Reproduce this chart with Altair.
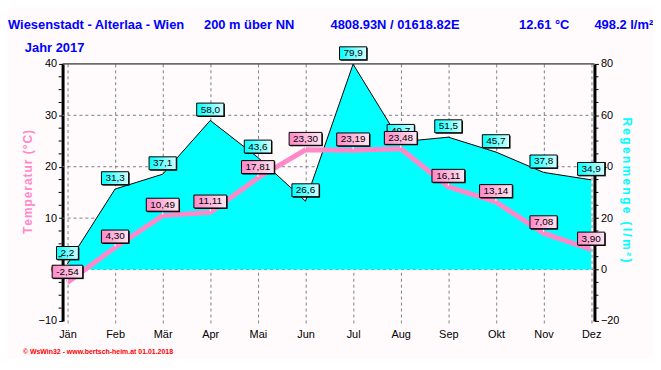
import altair as alt
import pandas as pd

# ---------------- data ----------------
months = ["Jän", "Feb", "Mär", "Apr", "Mai", "Jun", "Jul", "Aug", "Sep", "Okt", "Nov", "Dez"]
temperature = [-2.54, 4.30, 10.49, 11.11, 17.81, 23.30, 23.19, 23.48, 16.11, 13.14, 7.08, 3.90]
rainfall = [2.2, 31.3, 37.1, 58.0, 43.6, 26.6, 79.9, 49.7, 51.5, 45.7, 37.8, 34.9]
temp_ticks = [-10, 0, 10, 20, 30, 40]
rain_ticks = [-20, 0, 20, 40, 60, 80]
rain_grid = [0, 20, 40, 60]
rain_top = [80]

header_texts = ["Wiesenstadt - Alterlaa - Wien", "200 m über NN", "4808.93N / 01618.82E",
                "12.61 °C", "498.2 l/m²"]
year_text = "Jahr  2017"
footer_text = "© WsWin32 - www.bertsch-heim.at  01.01.2018"
temp_title = "Temperatur (°C)"
rain_title = "Regenmenge (l/m²)"

# ---------------- layout / style ----------------
W, H = 536, 259
PINK = "#ff88c8"
CYAN = "#00ffff"
BLUE = "#0000ff"
FONT = "Liberation Sans"

CHAR_W = {",": 0.278, "-": 0.333, ".": 0.278}


def text_w(s):
    return sum(CHAR_W.get(c, 0.556) for c in s) * 10


def box_path(s, dx=0.0, dy=0.0):
    half = (text_w(s) + 8) / 2
    return (f"M{-half + dx:.1f},{-17.5 + dy:.1f}H{half + dx:.1f}"
            f"V{-4.5 + dy:.1f}H{-half + dx:.1f}Z")


def fmt(v, d):
    return f"{v:.{d}f}".replace(".", ",")


df = pd.DataFrame({"m": list(range(len(months))), "temp": temperature, "rain": rainfall})
df["tlab"] = [fmt(v, 2) for v in temperature]
df["rlab"] = [fmt(v, 1) for v in rainfall]
df["tbox"] = df["tlab"].map(box_path)
df["tshadow"] = df["tlab"].map(lambda s: box_path(s, 1, 1))
df["rbox"] = df["rlab"].map(box_path)
df["rshadow"] = df["rlab"].map(lambda s: box_path(s, 1, 1))

rain_minor = [v for v in range(-15, 80, 5) if v % 20 != 0]
temp_minor = [v / 2 for v in rain_minor]

month_js = "[" + ",".join(f"'{m}'" for m in months) + "]"

x_scale = alt.Scale(domain=[-0.102, 11.069], nice=False, zero=False)
x_axis = alt.Axis(values=list(range(12)), labelExpr=f"{month_js}[datum.value]",
                  grid=True, gridColor="#808080", gridDash=[3, 3], gridWidth=1,
                  domain=False, ticks=True, tickColor="#808080", tickDash=[2, 2],
                  tickSize=4, labelFontSize=11, labelColor="black", labelPadding=4,
                  labelFont=FONT, title=None)
t_scale = alt.Scale(domain=[-10, 40], nice=False, zero=False)
t_axis = alt.Axis(orient="left", values=temp_ticks, grid=False, domainColor="black",
                  domainWidth=3, tickColor="black", tickSize=4, tickWidth=1,
                  labelFontSize=11, labelColor="black", labelPadding=2, labelFont=FONT,
                  title=None)
r_scale = alt.Scale(domain=[-20, 80], nice=False, zero=False)
r_axis = alt.Axis(orient="right", values=rain_ticks, grid=False, domainColor="black",
                  domainWidth=3, tickColor="black", tickSize=4, tickWidth=1,
                  labelFontSize=11, labelColor="black", labelPadding=2, labelFont=FONT,
                  title=None)


def X():
    return alt.X("m:Q", scale=x_scale, axis=x_axis)


def Yt(f):
    return alt.Y(f, type="quantitative", scale=t_scale, axis=t_axis)


def Yr(f):
    return alt.Y(f, type="quantitative", scale=r_scale, axis=r_axis)


def grad(c0, c1):
    return alt.Gradient(gradient="linear",
                        stops=[alt.GradientStop(color=c0, offset=0),
                               alt.GradientStop(color=c1, offset=1)],
                        x1=0, x2=1, y1=0, y2=0)


base = alt.Chart(df)

# ---------------- rain group (right axis) ----------------
grid_rules = alt.Chart(pd.DataFrame({"v": rain_grid})).mark_rule(
    color="#808080", strokeDash=[3, 3], strokeWidth=1).encode(y=Yr("v"))
area = base.mark_area(color=CYAN, opacity=1,
                      line={"color": "black", "strokeWidth": 1}).encode(x=X(), y=Yr("rain"))
top_rule = alt.Chart(pd.DataFrame({"v": rain_top})).mark_rule(
    color="black", strokeWidth=1).encode(y=Yr("v"))
r_minor = alt.Chart(pd.DataFrame({"v": rain_minor})).mark_rule(
    color="black", strokeWidth=1).encode(y=Yr("v"), x=alt.value(W + 1), x2=alt.value(W + 4))
r_shadow = base.mark_point(filled=True, fill="black", strokeWidth=0, size=4, opacity=1).encode(
    x=X(), y=Yr("rain"), shape=alt.Shape("rshadow:N", scale=None))
r_box = base.mark_point(filled=True, fill=grad(CYAN, "#d8ffff"), stroke="black",
                        strokeWidth=1, size=4, opacity=1).encode(
    x=X(), y=Yr("rain"), shape=alt.Shape("rbox:N", scale=None))
r_text = base.mark_text(fontSize=10, font=FONT, color="black", dy=-11,
                        baseline="middle", align="center").encode(
    x=X(), y=Yr("rain"), text="rlab:N")
rain_group = alt.layer(grid_rules, area, top_rule, r_minor, r_shadow, r_box, r_text)

# ---------------- temperature group (left axis) ----------------
t_minor = alt.Chart(pd.DataFrame({"v": temp_minor})).mark_rule(
    color="black", strokeWidth=1).encode(y=Yt("v"), x=alt.value(-4), x2=alt.value(-1))
t_line = base.mark_line(color=PINK, strokeWidth=5).encode(x=X(), y=Yt("temp"))
t_tick = base.mark_point(shape="M0,-4.5V-1", filled=False, stroke="white", strokeWidth=1,
                         size=4, opacity=1).encode(x=X(), y=Yt("temp"))
t_shadow = base.mark_point(filled=True, fill="black", strokeWidth=0, size=4, opacity=1).encode(
    x=X(), y=Yt("temp"), shape=alt.Shape("tshadow:N", scale=None))
t_box = base.mark_point(filled=True, fill=grad(PINK, "#ffe6f2"), stroke="black",
                        strokeWidth=1, size=4, opacity=1).encode(
    x=X(), y=Yt("temp"), shape=alt.Shape("tbox:N", scale=None))
t_text = base.mark_text(fontSize=10, font=FONT, color="black", dy=-11,
                        baseline="middle", align="center").encode(
    x=X(), y=Yt("temp"), text="tlab:N")
temp_group = alt.layer(t_minor, t_line, t_tick, t_shadow, t_box, t_text)


# ---------------- free texts ----------------
def txt(s, x, y, **kw):
    return alt.Chart(pd.DataFrame({"t": [s]})).mark_text(**kw).encode(
        x=alt.value(x), y=alt.value(y), text="t:N")


hx = [-55, 142.5, 270, 460, 536]
texts = [txt(s, x, -35.5, align="left", baseline="alphabetic", font=FONT, fontSize=13,
             fontWeight="bold", color=BLUE) for s, x in zip(header_texts, hx)]
texts.append(txt(year_text, -38, -12, align="left", baseline="alphabetic", font=FONT,
                 fontSize=13, fontWeight="bold", color=BLUE))
texts.append(txt(footer_text, -40, 292, align="left", baseline="alphabetic", font=FONT,
                 fontSize=7, fontWeight="bold", color="#ff0000"))
texts.append(txt("\u200a".join(temp_title), -35, 119, align="center", baseline="middle",
                 font=FONT, fontSize=12, fontWeight="bold", color=PINK, angle=270))
texts.append(txt("\u2009".join(rain_title), 569, 127, align="center", baseline="middle",
                 font=FONT, fontSize=12, fontWeight="bold", color=CYAN, angle=90))

chart = alt.layer(rain_group, temp_group, *texts).resolve_scale(y="independent").properties(
    width=W, height=H,
    autosize=alt.AutoSizeParams(type="none"),
    padding={"left": 55, "top": 55, "right": 59, "bottom": 36},
    background="#fffafc",
).configure_view(strokeWidth=0)

chart.save("out.html", embed_options={"renderer": "svg", "actions": False})
